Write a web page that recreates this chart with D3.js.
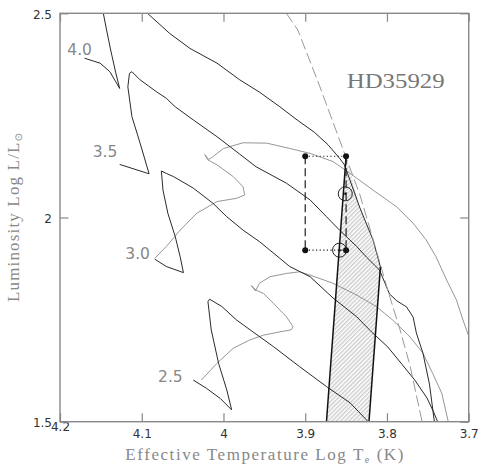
<!DOCTYPE html>
<html>
<head>
<meta charset="utf-8">
<script src="https://cdn.jsdelivr.net/npm/d3@7"></script>
<style>
  body { margin: 0; background: #fff; }
  svg { display: block; }
</style>
</head>
<body>
<svg id="hr_svg" width="481" height="469"></svg>
<script>
// every point is [log Teff, log L/Lsun]
var track40a = [[4.170, 2.390], [4.151, 2.378], [4.139, 2.357], [4.127, 2.316],
    [4.132, 2.356], [4.138, 2.410], [4.143, 2.459], [4.147, 2.500], [4.148, 2.515]];
var track40b = [[4.093, 2.500], [4.066, 2.451], [4.041, 2.414], [4.008, 2.378], [3.980, 2.337],
    [3.956, 2.307], [3.931, 2.271], [3.910, 2.239], [3.889, 2.209], [3.872, 2.178],
    [3.858, 2.145], [3.852, 2.129], [3.833, 2.023], [3.817, 1.945], [3.808, 1.879]];
var track35 = [[4.127, 2.130], [4.091, 2.107], [4.102, 2.182], [4.112, 2.247], [4.117, 2.320],
    [4.115, 2.353], [4.112, 2.357], [4.102, 2.337], [4.082, 2.308], [4.070, 2.292],
    [4.059, 2.271], [4.037, 2.239], [4.008, 2.198], [3.980, 2.155], [3.960, 2.124],
    [3.923, 2.084], [3.894, 2.043], [3.874, 2.002], [3.858, 1.969], [3.837, 1.929],
    [3.825, 1.903], [3.809, 1.871], [3.797, 1.813], [3.788, 1.796], [3.776, 1.781],
    [3.768, 1.756], [3.764, 1.717], [3.756, 1.668], [3.748, 1.592], [3.742, 1.500]];
var track30 = [[4.084, 1.898], [4.070, 1.880], [4.049, 1.865], [4.053, 1.904], [4.059, 1.953],
    [4.068, 2.010], [4.074, 2.067], [4.076, 2.114], [4.070, 2.108], [4.061, 2.100],
    [4.037, 2.072], [4.013, 2.035], [3.996, 2.002], [3.976, 1.969], [3.956, 1.941],
    [3.931, 1.900], [3.919, 1.880], [3.894, 1.855], [3.866, 1.803], [3.837, 1.757],
    [3.819, 1.720], [3.799, 1.683], [3.781, 1.639], [3.766, 1.602], [3.751, 1.558],
    [3.743, 1.524], [3.738, 1.500]];
var track25 = [[4.037, 1.602], [4.021, 1.582], [4.004, 1.557], [3.990, 1.529], [3.996, 1.578],
    [4.006, 1.643], [4.015, 1.725], [4.019, 1.794], [4.017, 1.800], [4.002, 1.782],
    [3.984, 1.749], [3.964, 1.720], [3.939, 1.684], [3.907, 1.635], [3.874, 1.586],
    [3.845, 1.546], [3.823, 1.500]];

// the grey tracks
var pmsTrack30 = [[4.084, 1.900], [4.070, 1.929], [4.053, 1.969], [4.033, 2.010], [4.008, 2.039],
    [3.984, 2.047], [3.974, 2.055], [3.976, 2.075], [3.988, 2.100], [4.008, 2.129],
    [4.019, 2.141], [4.023, 2.154], [4.018, 2.142], [4.013, 2.149], [4.000, 2.169],
    [3.976, 2.183], [3.947, 2.182], [3.919, 2.169], [3.894, 2.157], [3.866, 2.137],
    [3.845, 2.108], [3.817, 2.067], [3.788, 2.026], [3.768, 1.986], [3.752, 1.945],
    [3.740, 1.904], [3.727, 1.847], [3.715, 1.798], [3.707, 1.749], [3.700, 1.710]];
var pmsTrack25 = [[4.027, 1.602], [4.008, 1.643], [3.988, 1.680], [3.968, 1.700], [3.951, 1.712],
    [3.931, 1.720], [3.917, 1.725], [3.915, 1.733], [3.923, 1.757], [3.939, 1.790],
    [3.951, 1.814], [3.960, 1.822], [3.966, 1.833], [3.961, 1.820], [3.956, 1.839],
    [3.943, 1.855], [3.923, 1.863], [3.907, 1.867], [3.894, 1.859], [3.866, 1.839],
    [3.837, 1.810], [3.813, 1.782], [3.793, 1.749], [3.772, 1.708], [3.756, 1.668],
    [3.744, 1.618], [3.733, 1.570], [3.725, 1.500]];
var dashedLine = [[3.923, 2.500], [3.909, 2.459], [3.882, 2.320], [3.858, 2.190], [3.833, 2.055],
    [3.815, 1.933], [3.799, 1.822], [3.784, 1.725], [3.772, 1.639], [3.764, 1.565], [3.757, 1.500]];

// instability strip (hatched) and its two edges
var stripRegion = [[3.850, 2.150], [3.833, 2.023], [3.817, 1.945], [3.808, 1.879], [3.822, 1.500], [3.874, 1.500]];
var stripBlue = [[3.850, 2.150], [3.874, 1.500]];
var stripRed = [[3.822, 1.500], [3.808, 1.879]];

// error box of the star
var boxTemps = [3.900, 3.850];
var boxLums = [2.150, 1.920];
var sunMarks = [[3.851, 2.058], [3.858, 1.920]];

var massLabels = ["4.0", "3.5", "3.0", "2.5"];
var massLabelPos = [[4.176, 2.398], [4.145, 2.148], [4.105, 1.898], [4.065, 1.597]];

var xTicks = [4.2, 4.1, 4.0, 3.9, 3.8, 3.7];
var xTickLabels = ["4.2", "4.1", "4", "3.9", "3.8", "3.7"];
var yTicks = [1.5, 2.0, 2.5];
var yTickLabels = ["1.5", "2", "2.5"];

var starName = "HD35929";

function drawHR() {
    var svg = d3.select("#hr_svg");
    var width = +svg.attr("width"),
        height = +svg.attr("height");
    var margin = { top: 13.3, left: 60, right: 12.3, bottom: 47.3 };
    var innerWidth = width - margin.left - margin.right;
    var innerHeight = height - margin.top - margin.bottom;

    var x = d3.scaleLinear().domain([4.2, 3.7]).range([0, innerWidth]);
    var y = d3.scaleLinear().domain([1.5, 2.5]).range([innerHeight, 0]);

    var defs = svg.append("defs");
    defs.append("clipPath")
        .attr("id", "plotClip")
        .append("rect")
        .attr("width", innerWidth)
        .attr("height", innerHeight);
    var hatch = defs.append("pattern")
        .attr("id", "hatch")
        .attr("patternUnits", "userSpaceOnUse")
        .attr("width", 3)
        .attr("height", 10)
        .attr("patternTransform", "rotate(45)");
    hatch.append("line")
        .attr("x1", 0.8).attr("y1", 0)
        .attr("x2", 0.8).attr("y2", 10)
        .attr("stroke", "#888")
        .attr("stroke-width", 0.6);

    var g = svg.append("g")
        .attr("transform", "translate(" + margin.left + "," + margin.top + ")");
    var plot = g.append("g").attr("clip-path", "url(#plotClip)");

    var line = d3.line()
        .x((d) => x(d[0]))
        .y((d) => y(d[1]));

    plot.append("path")
        .attr("d", line(stripRegion) + "Z")
        .attr("fill", "url(#hatch)")
        .attr("stroke", "none");

    // grey tracks first, black on top
    var tracks = [
        { data: pmsTrack30, color: "#8a8a8a", w: 0.9 },
        { data: pmsTrack25, color: "#8a8a8a", w: 0.9 },
        { data: track40a, color: "#2a2a2a", w: 1 },
        { data: track40b, color: "#2a2a2a", w: 1 },
        { data: track35, color: "#2a2a2a", w: 1 },
        { data: track30, color: "#2a2a2a", w: 1 },
        { data: track25, color: "#2a2a2a", w: 1 }
    ];
    plot.selectAll(".track")
        .data(tracks)
        .enter()
        .append("path")
        .attr("class", "track")
        .attr("fill", "none")
        .attr("stroke", (d) => d.color)
        .attr("stroke-width", (d) => d.w)
        .attr("stroke-linejoin", "round")
        .attr("d", (d) => line(d.data));

    plot.append("path")
        .attr("d", line(dashedLine))
        .attr("fill", "none")
        .attr("stroke", "#999")
        .attr("stroke-width", 1)
        .attr("stroke-dasharray", "11,4");

    plot.selectAll(".edge")
        .data([stripBlue, stripRed])
        .enter()
        .append("path")
        .attr("class", "edge")
        .attr("d", line)
        .attr("fill", "none")
        .attr("stroke", "#111")
        .attr("stroke-width", 1.5);

    // error box: dashed sides, dotted top and bottom
    boxTemps.forEach(function (t) {
        g.append("line")
            .attr("x1", x(t)).attr("x2", x(t))
            .attr("y1", y(boxLums[0])).attr("y2", y(boxLums[1]))
            .attr("stroke", "#222")
            .attr("stroke-width", 1.2)
            .attr("stroke-dasharray", "8,4");
    });
    boxLums.forEach(function (l) {
        g.append("line")
            .attr("x1", x(boxTemps[0])).attr("x2", x(boxTemps[1]))
            .attr("y1", y(l)).attr("y2", y(l))
            .attr("stroke", "#222")
            .attr("stroke-width", 1.1)
            .attr("stroke-dasharray", "1.2,2.4");
    });
    var corners = [];
    boxTemps.forEach((t) => boxLums.forEach((l) => corners.push([t, l])));
    g.selectAll(".corner")
        .data(corners)
        .enter()
        .append("circle")
        .attr("class", "corner")
        .attr("cx", (d) => x(d[0]))
        .attr("cy", (d) => y(d[1]))
        .attr("r", 3)
        .attr("fill", "#111");

    var suns = g.selectAll(".sun")
        .data(sunMarks)
        .enter()
        .append("g")
        .attr("class", "sun")
        .attr("transform", (d) => "translate(" + x(d[0]) + "," + y(d[1]) + ")");
    suns.append("circle")
        .attr("r", 7)
        .attr("fill", "none")
        .attr("stroke", "#222")
        .attr("stroke-width", 1);
    suns.append("circle")
        .attr("r", 1.3)
        .attr("fill", "#222");

    // frame
    g.append("rect")
        .attr("width", innerWidth)
        .attr("height", innerHeight)
        .attr("fill", "none")
        .attr("stroke", "#888")
        .attr("stroke-width", 1.4);

    function styleAxis(sel) {
        sel.select(".domain").remove();
        sel.selectAll(".tick line").attr("stroke", "#888").attr("stroke-width", 1.2);
        sel.selectAll("text")
            .attr("fill", "#333")
            .style("font-family", "'DejaVu Sans', sans-serif")
            .style("font-size", "12px");
    }

    g.append("g")
        .attr("transform", "translate(0," + innerHeight + ")")
        .call(d3.axisBottom(x).tickValues(xTicks)
            .tickFormat((d, i) => xTickLabels[i])
            .tickSizeInner(-8.5).tickSizeOuter(0).tickPadding(8))
        .call(styleAxis)
        .selectAll("text")
        .filter((d) => d === 4.2)
        .attr("dy", "0.1em");

    g.append("g")
        .call(d3.axisTop(x).tickValues(xTicks).tickFormat("")
            .tickSizeInner(-8.5).tickSizeOuter(0))
        .call(styleAxis);

    g.append("g")
        .call(d3.axisLeft(y).tickValues(yTicks)
            .tickFormat((d, i) => yTickLabels[i])
            .tickSizeInner(-8.5).tickSizeOuter(0).tickPadding(8))
        .call(styleAxis)
        .selectAll("text")
        .attr("dy", "0.42em");

    g.append("g")
        .attr("transform", "translate(" + innerWidth + ",0)")
        .call(d3.axisRight(y).tickValues(yTicks).tickFormat("")
            .tickSizeInner(-8.5).tickSizeOuter(0))
        .call(styleAxis);

    // mass labels
    g.selectAll(".mass")
        .data(massLabels)
        .enter()
        .append("text")
        .attr("class", "mass")
        .attr("x", (d, i) => x(massLabelPos[i][0]))
        .attr("y", (d, i) => y(massLabelPos[i][1]))
        .attr("text-anchor", "middle")
        .attr("fill", "#888")
        .style("font-family", "'DejaVu Sans', sans-serif")
        .style("font-size", "15.5px")
        .text((d) => d);

    g.append("text")
        .attr("x", 286.7)
        .attr("y", 75)
        .attr("fill", "#777")
        .attr("textLength", 98)
        .attr("lengthAdjust", "spacingAndGlyphs")
        .style("font-family", "'Liberation Serif', 'DejaVu Serif', serif")
        .style("font-size", "22px")
        .text(starName);

    var xTitle = svg.append("text")
        .attr("x", margin.left + innerWidth / 2)
        .attr("y", 460)
        .attr("text-anchor", "middle")
        .attr("fill", "#888")
        .attr("textLength", 278)
        .attr("lengthAdjust", "spacing")
        .style("font-family", "'Liberation Serif', 'DejaVu Serif', serif")
        .style("font-size", "17px");
    xTitle.append("tspan").text("Effective Temperature Log T");
    xTitle.append("tspan").attr("dy", 3).style("font-size", "10px").text("e");
    xTitle.append("tspan").attr("dy", -3).text(" (K)");

    var yTitle = svg.append("text")
        .attr("transform", "translate(18.5," + (margin.top + innerHeight / 2) + ") rotate(-90)")
        .attr("text-anchor", "middle")
        .attr("fill", "#888")
        .attr("textLength", 169)
        .attr("lengthAdjust", "spacing")
        .style("font-family", "'Liberation Serif', 'DejaVu Serif', serif")
        .style("font-size", "17px");
    yTitle.append("tspan").text("Luminosity Log L/L");
    yTitle.append("tspan").attr("dy", 3).style("font-size", "10px")
        .style("font-family", "'DejaVu Sans', sans-serif").text("\u2299");
}

drawHR();
</script>
</body>
</html>
